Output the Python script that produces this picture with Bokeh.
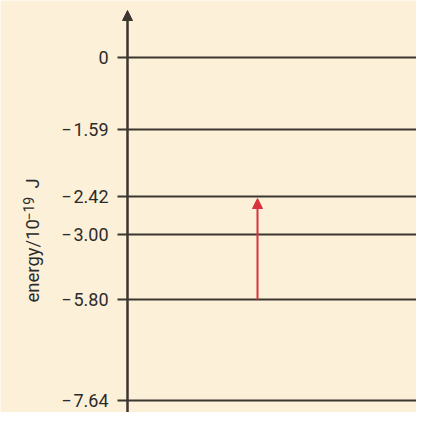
from bokeh.plotting import figure
from bokeh.models import Range1d, Arrow, NormalHead, ColumnDataSource
from bokeh.core.properties import value
from bokeh.embed import file_html
from bokeh.resources import INLINE

# ---- data -------------------------------------------------------------
level_energy = [0.0, -1.59, -2.42, -3.00, -5.80, -7.64]          # energy / 1e-19 J
level_labels = ["0", "\u2212\u200a1.59", "\u2212\u200a2.42", "\u2212\u200a3.00",
                "\u2212\u200a5.80", "\u2212\u200a7.64"]
# schematic (not to scale) drawing heights of the levels
level_pos = [0, -72, -139, -177, -242, -343]
transition_from = -5.80
transition_to = -2.42
title_parts = ["energy/10", "\u221219", "J"]        # energy/10^-19 J

# ---- styles -----------------------------------------------------------
BG = "#fdf0d9"
INK = "#3b3630"
TXT = "#2b2b2b"
RED = "#d8323f"
FONT = value("Roboto")

W, H = 416, 412
AXIS_PX = 127                      # horizontal pixel position of the energy axis
TOP = 57                           # pixel distance from top to the zero level
Y1 = TOP
Y0 = TOP - H
p = figure(width=W, height=H, output_backend="svg", toolbar_location=None,
           x_range=Range1d(-AXIS_PX, W - AXIS_PX), y_range=Range1d(Y0, Y1),
           x_axis_location=None, y_axis_location=None,
           min_border=0)
p.background_fill_color = BG
p.border_fill_color = BG
p.outline_line_color = None
p.grid.visible = False

n = len(level_pos)
axis_x = 0
x_end = W - AXIS_PX

# energy levels
p.segment(x0=[axis_x] * n, y0=level_pos, x1=[x_end] * n, y1=level_pos,
          line_color=INK, line_width=2.2)

# tick marks
p.segment(x0=[axis_x - 10] * n, y0=level_pos, x1=[axis_x] * n, y1=level_pos,
          line_color=INK, line_width=2.2)

# tick labels
p.text(x=[axis_x - 19] * n, y=level_pos, text=level_labels,
       text_align="right", text_baseline="middle",
       text_font=FONT, text_font_size="18px", text_color=TXT)

# vertical energy axis with arrow head
p.add_layout(Arrow(x_start=axis_x, y_start=Y0, x_end=axis_x, y_end=Y1 - 10,
                   line_color=INK, line_width=2.5,
                   end=NormalHead(size=10, fill_color=INK, line_color=INK, line_width=1)))

# transition arrow
y_from = level_pos[level_energy.index(transition_from)]
y_to = level_pos[level_energy.index(transition_to)]
p.add_layout(Arrow(x_start=130, y_start=y_from, x_end=130, y_end=y_to - 2,
                   line_color=RED, line_width=2,
                   end=NormalHead(size=10, fill_color=RED, line_color=RED, line_width=1)))

# axis title (rotated, with a raised smaller exponent)
title_src = ColumnDataSource(dict(
    x=[-95, -99, -95],
    y=[-245, -163, -131],
    text=title_parts,
    size=["18.5px", "14px", "18.5px"],
))
p.text(x="x", y="y", text="text", source=title_src, angle=90, angle_units="deg",
       text_align="left", text_baseline="alphabetic",
       text_font=FONT, text_font_size="size", text_color=TXT)

open("out.html", "w").write(file_html(p, INLINE))
